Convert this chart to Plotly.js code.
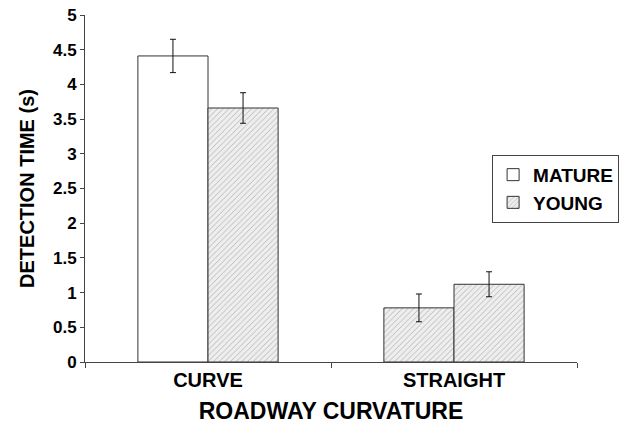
<!DOCTYPE html>
<html><head><meta charset="utf-8">
<script src="https://cdn.plot.ly/plotly-3.0.1.min.js"></script>
<style>body{margin:0;background:#fff}#c{width:619px;height:430px}</style>
</head><body><div id="c"></div>
<script>
const categories = ["CURVE", "STRAIGHT"];
const matureValues = [4.41, 0.78];
const matureErrors = [0.24, 0.20];
const youngValues = [3.66, 1.12];
const youngErrors = [0.22, 0.18];
const yTickVals = [0, 0.5, 1, 1.5, 2, 2.5, 3, 3.5, 4, 4.5, 5];
const yTickText = ["0", "0.5", "1", "1.5", "2", "2.5", "3", "3.5", "4", "4.5", "5"];

const fontFam = "Liberation Sans, Arial, sans-serif";
const hatch = {shape: "/", fgcolor: "#a8a8a8", bgcolor: "#eeeeee", size: 4, solidity: 0.18};

const traces = [
  {type: "bar", name: "MATURE", x: categories, y: matureValues,
   error_y: {type: "data", array: matureErrors, visible: true, color: "#111", thickness: 1, width: 3},
   marker: {color: "#fff", line: {color: "#333", width: 1},
            pattern: {shape: ["", "/"], fgcolor: "#a8a8a8", bgcolor: ["#ffffff", "#eeeeee"], size: 4, solidity: 0.18}}},
  {type: "bar", name: "YOUNG", x: categories, y: youngValues,
   error_y: {type: "data", array: youngErrors, visible: true, color: "#111", thickness: 1, width: 3},
   marker: {color: "#eeeeee", line: {color: "#333", width: 1}, pattern: hatch}}
];

const layout = {
  width: 619, height: 430,
  margin: {l: 85, r: 42, t: 15, b: 68, autoexpand: false},
  paper_bgcolor: "#fff", plot_bgcolor: "#fff",
  barmode: "group", bargap: 0.43, bargroupgap: 0,
  font: {family: fontFam, color: "#000", size: 17, weight: "bold"},
  showlegend: true,
  legend: {xref: "container", yref: "container", x: 0.795, y: 0.64, xanchor: "left", yanchor: "top",
           bordercolor: "#444", borderwidth: 1, bgcolor: "rgba(255,255,255,0)",
           font: {family: fontFam, size: 19, weight: "bold", color: "#000"},
           itemwidth: 30, tracegroupgap: 0},
  xaxis: {
    showline: true, linecolor: "#444", linewidth: 1,
    ticks: "outside", tickson: "boundaries", ticklen: 5, tickcolor: "#444",
    tickfont: {family: fontFam, size: 20, weight: "bold", color: "#000"},
    title: {text: "ROADWAY CURVATURE", font: {family: fontFam, size: 23, weight: "bold", color: "#000"}, standoff: 12},
    showgrid: false, zeroline: false
  },
  yaxis: {
    range: [0, 5], tickvals: yTickVals, ticktext: yTickText,
    showline: true, linecolor: "#444", linewidth: 1,
    ticks: "outside", ticklen: 4, tickcolor: "#444",
    tickfont: {family: fontFam, size: 17, weight: "bold", color: "#000"},
    title: {text: "DETECTION TIME (s)", font: {family: fontFam, size: 20, weight: "bold", color: "#000"}, standoff: 12},
    showgrid: false, zeroline: false
  }
};

Plotly.newPlot("c", traces, layout, {displayModeBar: false, staticPlot: true});
</script>
</body></html>
